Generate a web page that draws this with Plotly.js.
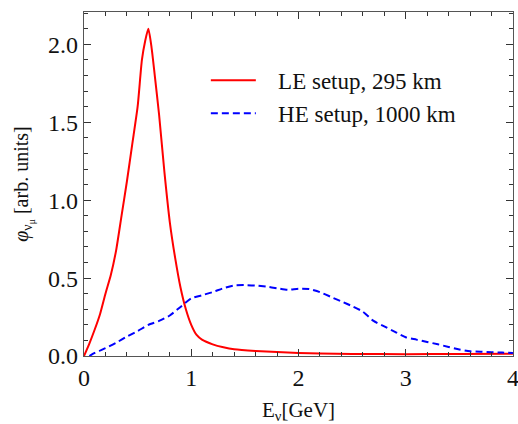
<!DOCTYPE html>
<html>
<head>
<meta charset="utf-8">
<script src="https://cdn.plot.ly/plotly-3.0.1.min.js"></script>
<style>html,body{margin:0;padding:0;background:#fff;}#chart{width:518px;height:424px;}</style>
</head>
<body>
<div id="chart"></div>
<script>
const leName = "LE setup, 295 km";
const heName = "HE setup, 1000 km";
const leE = [0, 0.05, 0.1, 0.15, 0.2, 0.25, 0.3, 0.35, 0.4, 0.45, 0.5, 0.54, 0.57, 0.6, 0.63, 0.66, 0.7, 0.75, 0.8, 0.85, 0.9, 0.95, 1.0, 1.05, 1.1, 1.2, 1.3, 1.4, 1.6, 1.8, 2.0, 2.2, 2.5, 3.0, 3.5, 4.0];
const leFlux = [0, 0.08, 0.17, 0.27, 0.4, 0.52, 0.68, 0.9, 1.12, 1.36, 1.6, 1.9, 2.02, 2.1, 1.98, 1.8, 1.55, 1.18, 0.86, 0.63, 0.44, 0.3, 0.2, 0.135, 0.105, 0.075, 0.056, 0.043, 0.032, 0.025, 0.02, 0.016, 0.013, 0.012, 0.013, 0.014];
const heE = [0.05, 0.1, 0.2, 0.3, 0.4, 0.5, 0.6, 0.7, 0.8, 0.9, 1.0, 1.1, 1.2, 1.3, 1.4, 1.5, 1.6, 1.7, 1.8, 1.9, 2.0, 2.1, 2.2, 2.3, 2.4, 2.5, 2.6, 2.7, 2.8, 2.9, 3.0, 3.1, 3.2, 3.3, 3.4, 3.5, 3.6, 3.7, 3.8, 3.9, 4.0];
const heFlux = [0, 0.02, 0.05, 0.085, 0.125, 0.16, 0.2, 0.225, 0.26, 0.315, 0.37, 0.39, 0.41, 0.435, 0.453, 0.455, 0.452, 0.445, 0.435, 0.425, 0.432, 0.43, 0.41, 0.38, 0.35, 0.32, 0.285, 0.225, 0.19, 0.155, 0.12, 0.105, 0.09, 0.075, 0.058, 0.042, 0.03, 0.027, 0.024, 0.022, 0.02];

const serif = "Liberation Serif, Times New Roman, serif";
const pad = "\u00a0\u00a0\u00a0";
const traces = [
  {x: leE, y: leFlux, name: pad + leName, legendgroup: "le", mode: "lines", line: {color: "#ff0000", width: 2, shape: "spline", smoothing: 0.6}},
  {x: heE, y: heFlux, name: pad + heName, legendgroup: "he", mode: "lines", line: {color: "#0000ff", width: 2, dash: "7px,4px", shape: "spline", smoothing: 0.6}}
];
const axisCommon = {
  showgrid: false, zeroline: false, showline: true, mirror: "allticks",
  linecolor: "#555", linewidth: 1.2, ticks: "inside", ticklen: 7, tickwidth: 1, tickcolor: "#333",
  ticklabeloverflow: "allow",
  tickfont: {family: serif, size: 24, color: "#111"}
};
const layout = {
  width: 518, height: 424,
  margin: {l: 84, r: 5, t: 12, b: 68},
  paper_bgcolor: "#fff", plot_bgcolor: "#fff",
  showlegend: true,
  legend: {x: 0.284, y: 0.864, xanchor: "left", yanchor: "top", bgcolor: "rgba(0,0,0,0)",
           font: {family: serif, size: 23, color: "#111"}, itemwidth: 45, traceorder: "grouped", tracegroupgap: 0},
  xaxis: Object.assign({}, axisCommon, {range: [0, 4.0005], dtick: 1, tick0: 0,
    minor: {dtick: 0.2, ticks: "inside", ticklen: 4, tickcolor: "#333"},
    title: {text: "E<sub>ν</sub>[GeV]", font: {family: serif, size: 21, color: "#111"}, standoff: 12}}),
  yaxis: Object.assign({}, axisCommon, {range: [0, 2.208], dtick: 0.5, tick0: 0, tickformat: ".1f",
    minor: {dtick: 0.1, ticks: "inside", ticklen: 4, tickcolor: "#333"},
    title: {text: "<i>φ</i><sub>ν<sub>μ</sub></sub> [arb. units]", font: {family: serif, size: 20, color: "#111"}, standoff: 14}})
};
Plotly.newPlot("chart", traces, layout, {displayModeBar: false, staticPlot: true});
</script>
</body>
</html>
